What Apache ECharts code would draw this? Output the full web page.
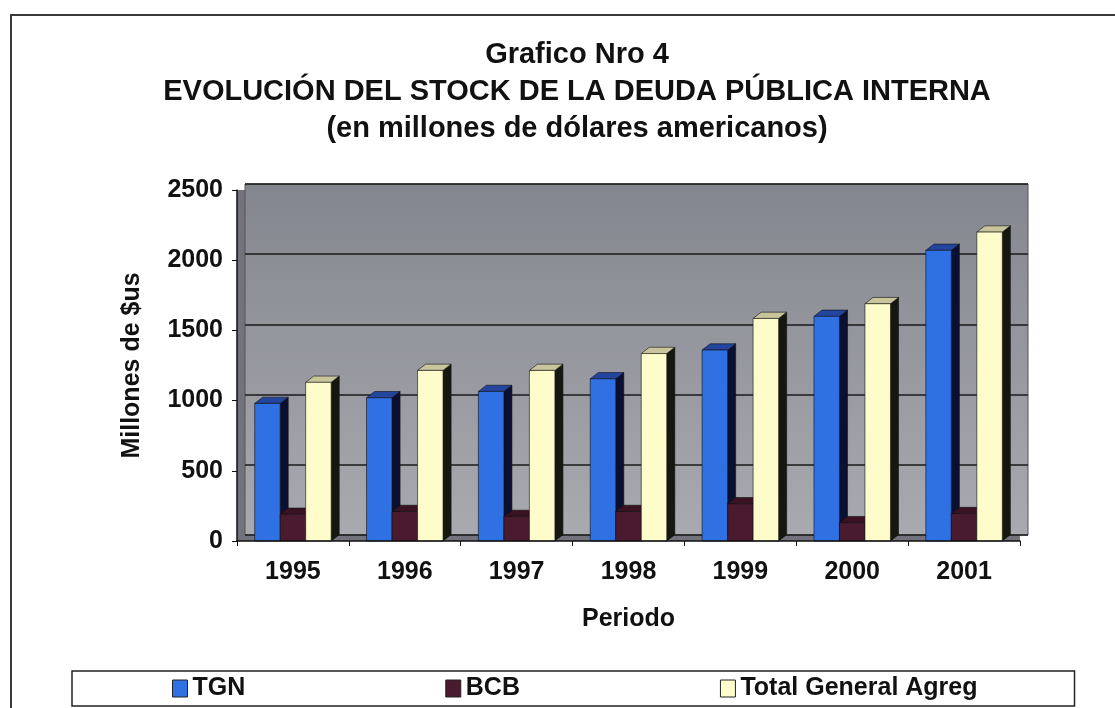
<!DOCTYPE html>
<html><head><meta charset="utf-8">
<script src="https://cdn.jsdelivr.net/npm/echarts@6/dist/echarts.min.js"></script>
<style>
html,body{margin:0;padding:0;background:#fff;}
body{width:1115px;height:708px;overflow:hidden;position:relative;}
#frame{position:absolute;left:10px;top:14px;width:1200px;height:800px;border:2px solid #3a3a3a;box-sizing:border-box;}
#chart{position:absolute;left:0;top:0;width:1115px;height:708px;}
</style></head><body>
<div id="frame"></div><div id="chart"></div>
<script>
// ---- data ----
const categories = ['1995', '1996', '1997', '1998', '1999', '2000', '2001'];
const tgn   = [980, 1020, 1065, 1155, 1360, 1600, 2070];
const bcb   = [190, 210, 175, 210, 265, 130, 195];
const total = [1130, 1215, 1215, 1335, 1585, 1690, 2200];
const seriesNames = ['TGN', 'BCB', 'Total General Agreg'];
const yMin = 0, yMax = 2500, yStep = 500;
const titleLines = ['Grafico Nro 4', 'EVOLUCIÓN DEL STOCK DE LA DEUDA PÚBLICA INTERNA', '(en millones de dólares americanos)'];
const yName = 'Millones de $us';
const xName = 'Periodo';

const FONT = 'Liberation Sans, Arial, sans-serif';

function bar3d(slot, face, topC, side) {
  return function (params, api) {
    const i = api.value(0), v = api.value(1);
    const p = api.coord([i, v]);
    const b = api.coord([i, 0]);
    const band = api.size([1, 0])[0];
    const w = band * 0.228;
    const d = band * 0.072;
    const dy = d * 0.78;
    const cx = p[0] + slot * w;
    const x0 = cx - w / 2, x1 = cx + w / 2;
    const yt = p[1], yb = b[1];
    const stroke = '#111';
    return { type: 'group', children: [
      { type: 'polygon', shape: { points: [[x1, yb], [x1 + d, yb - dy], [x1 + d, yt - dy], [x1, yt]] }, style: { fill: side, stroke: stroke, lineWidth: 0.6 } },
      { type: 'polygon', shape: { points: [[x0, yt], [x0 + d, yt - dy], [x1 + d, yt - dy], [x1, yt]] }, style: { fill: topC, stroke: stroke, lineWidth: 0.6 } },
      { type: 'rect', shape: { x: x0, y: yt, width: w, height: yb - yt }, style: { fill: face, stroke: stroke, lineWidth: 0.6 } }
    ]};
  };
}

const palette = [
  { face: '#2f70e2', top: '#23459e', side: '#0b1030' },
  { face: '#4a1b2e', top: '#3a1222', side: '#1a0610' },
  { face: '#fffccc', top: '#c8c59c', side: '#16170e' }
];
const seriesData = [tgn, bcb, total];

const chart = echarts.init(document.getElementById('chart'));
chart.setOption({
  animation: false,
  backgroundColor: 'transparent',
  title: {
    text: titleLines.join('\n'),
    left: 572, top: 31, textAlign: 'center',
    textStyle: { fontFamily: FONT, fontWeight: 'bold', fontSize: 29, lineHeight: 37, color: '#111' }
  },
  legend: {
    data: seriesNames,
    left: 72, top: 671,
    padding: [5, 97, 5, 100],
    itemGap: 200,
    itemWidth: 15, itemHeight: 17,
    icon: 'rect',
    borderColor: '#222', borderWidth: 1.5,
    itemStyle: { borderColor: '#222', borderWidth: 1 },
    textStyle: { fontFamily: FONT, fontWeight: 'bold', fontSize: 25, color: '#111' }
  },
  grid: [
    { left: 245, right: 87, top: 184, bottom: 173, show: true, z: 1,
      backgroundColor: { type: 'linear', x: 0, y: 0, x2: 0, y2: 1, colorStops: [{ offset: 0, color: '#84868f' }, { offset: 1, color: '#a9aaaf' }] },
      borderColor: '#555', borderWidth: 1 },
    { left: 237, right: 95, top: 190, bottom: 167, show: true, z: 0,
      backgroundColor: '#72737c', borderWidth: 0 }
  ],
  xAxis: [
    { gridIndex: 0, type: 'category', data: categories, show: false },
    { gridIndex: 1, type: 'category', data: categories, z: 3,
      axisLine: { show: true, lineStyle: { color: '#111', width: 1.5 } },
      axisTick: { show: true, length: 5, lineStyle: { color: '#111' } },
      splitLine: { show: false },
      axisLabel: { margin: 19, fontFamily: FONT, fontWeight: 'bold', fontSize: 25, color: '#111' },
      name: xName, nameLocation: 'middle', nameGap: 66,
      nameTextStyle: { fontFamily: FONT, fontWeight: 'bold', fontSize: 25, color: '#111' } }
  ],
  yAxis: [
    { gridIndex: 0, type: 'value', min: yMin, max: yMax, interval: yStep, z: 1,
      axisLine: { show: false }, axisTick: { show: false }, axisLabel: { show: false },
      splitLine: { show: true, lineStyle: { color: '#1a1a1a', width: 1.6 } } },
    { gridIndex: 1, type: 'value', min: yMin, max: yMax, interval: yStep, z: 3,
      axisLine: { show: true, lineStyle: { color: '#111', width: 1.5 } },
      axisTick: { show: true, length: 5, lineStyle: { color: '#111' } },
      splitLine: { show: false },
      axisLabel: { margin: 14, fontFamily: FONT, fontWeight: 'bold', fontSize: 25, color: '#111',
        formatter: function (v) { return String(v); } },
      name: yName, nameLocation: 'middle', nameGap: 92,
      nameTextStyle: { fontFamily: FONT, fontWeight: 'bold', fontSize: 25, color: '#111' } }
  ],
  series: seriesNames.map(function (name, s) {
    return {
      type: 'custom', name: name, xAxisIndex: 1, yAxisIndex: 1, z: 2,
      itemStyle: { color: palette[s].face, borderColor: '#222', borderWidth: 1 },
      renderItem: bar3d(s - 1, palette[s].face, palette[s].top, palette[s].side),
      encode: { x: 0, y: 1 },
      data: categories.map(function (c, i) { return [i, seriesData[s][i]]; })
    };
  })
});
</script>
</body></html>
